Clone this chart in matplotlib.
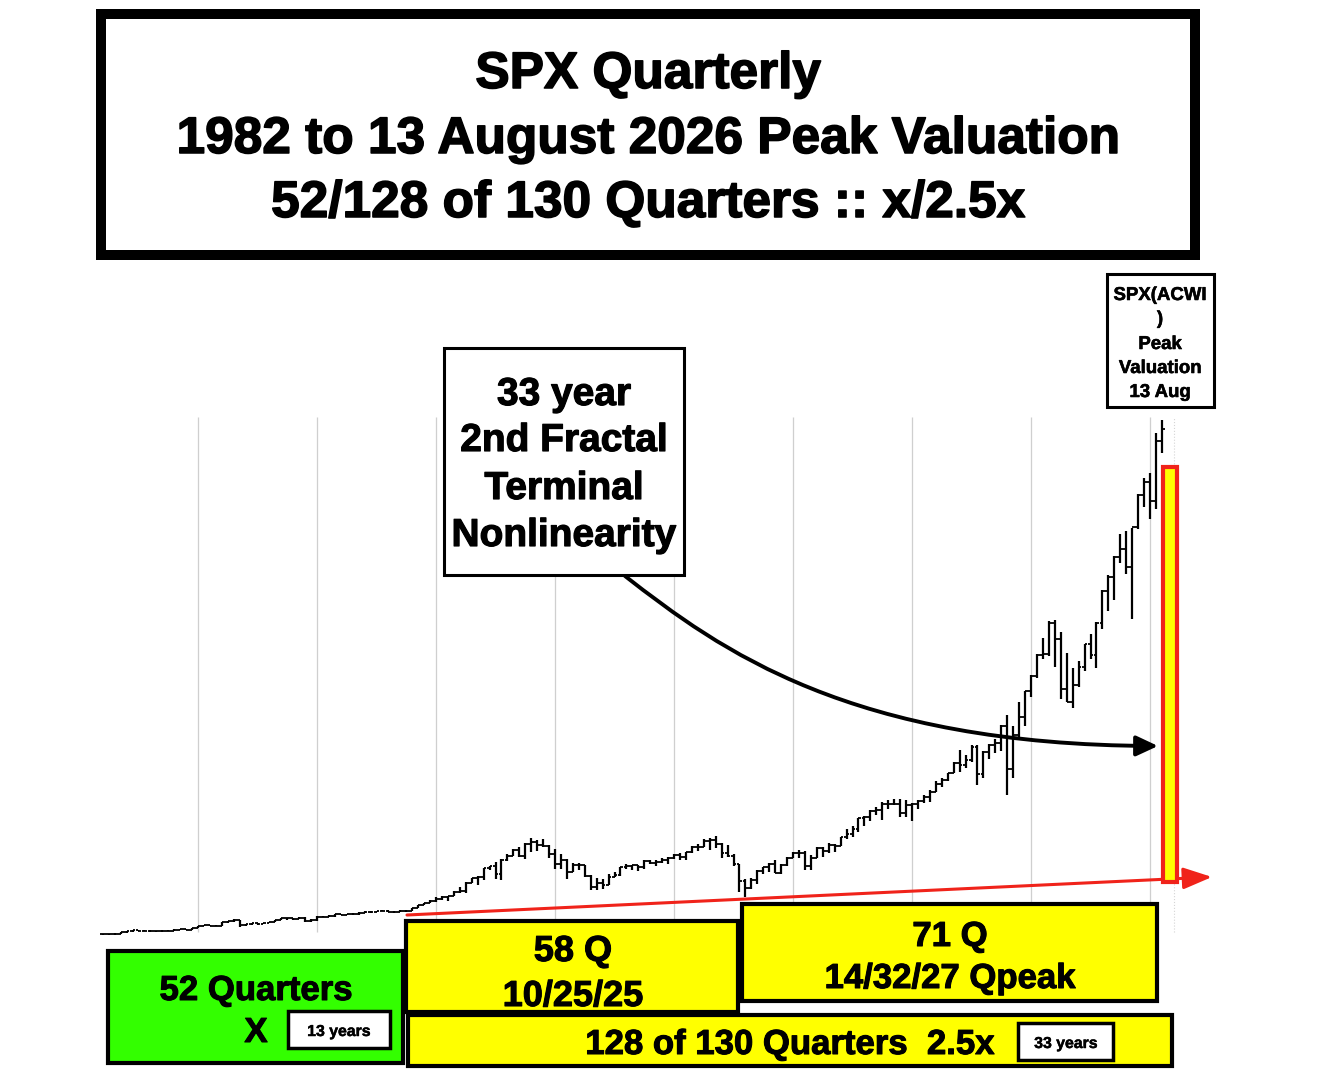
import matplotlib
matplotlib.use("Agg")
import matplotlib.pyplot as plt
import matplotlib.patheffects as pe
from matplotlib.patches import Rectangle, FancyArrowPatch
from matplotlib.path import Path
import numpy as np

plt.rcParams['font.family'] = ['Liberation Sans', 'DejaVu Sans']
plt.rcParams['font.weight'] = 'bold'

# quarterly bars, 1982Q1 .. 2026Q3
FIRST_YEAR = 1982.0
first_open = 122.55

closes = [
    111.96, 109.61, 120.42, 140.64,
    152.96, 168.11, 166.07, 164.93,
    159.18, 153.18, 166.10, 167.24,
    180.66, 191.85, 182.08, 211.28,
    238.90, 250.84, 231.32, 242.17,
    291.70, 304.00, 321.83, 247.08,
    258.89, 273.50, 271.91, 277.72,
    294.87, 317.98, 349.15, 353.40,
    339.94, 358.02, 306.05, 330.22,
    375.22, 371.16, 387.86, 417.09,
    403.69, 408.14, 417.80, 435.71,
    451.67, 450.53, 458.93, 466.45,
    445.77, 444.27, 462.69, 459.27,
    500.71, 544.75, 584.41, 615.93,
    645.50, 670.63, 687.33, 740.74,
    757.12, 885.14, 947.28, 970.43,
    1101.75, 1133.84, 1017.01, 1229.23,
    1286.37, 1372.71, 1282.71, 1469.25,
    1498.58, 1454.60, 1436.51, 1320.28,
    1160.33, 1224.42, 1040.94, 1148.08,
    1147.39, 989.82, 815.28, 879.82,
    848.18, 974.50, 995.97, 1111.92,
    1126.21, 1140.84, 1114.58, 1211.92,
    1180.59, 1191.33, 1228.81, 1248.29,
    1294.83, 1270.20, 1335.85, 1418.30,
    1420.86, 1503.35, 1526.75, 1468.36,
    1322.70, 1280.00, 1166.36, 903.25,
    797.87, 919.32, 1057.08, 1115.10,
    1169.43, 1030.71, 1141.20, 1257.64,
    1325.83, 1320.64, 1131.42, 1257.60,
    1408.47, 1362.16, 1440.67, 1426.19,
    1569.19, 1606.28, 1681.55, 1848.36,
    1872.34, 1960.23, 1972.29, 2058.90,
    2067.89, 2063.11, 1920.03, 2043.94,
    2059.74, 2098.86, 2168.27, 2238.83,
    2362.72, 2423.41, 2519.36, 2673.61,
    2640.87, 2718.37, 2913.98, 2506.85,
    2834.40, 2941.76, 2976.74, 3230.78,
    2584.59, 3100.29, 3363.00, 3756.07,
    3972.89, 4297.50, 4307.54, 4766.18,
    4530.41, 3785.38, 3585.62, 3839.50,
    4109.31, 4450.38, 4288.05, 4769.83,
    5254.35, 5460.48, 5762.48, 5881.63,
    5611.85, 6204.95, 6688.46, 6880.00,
    6590.00, 7490.00, 7680.00,
]

highs = [
    122.6, 119.3, 124.9, 143.0,
    154.0, 170.0, 172.7, 172.7,
    168.0, 162.0, 170.0, 170.0,
    183.0, 192.0, 196.0, 212.0,
    240.0, 254.0, 254.0, 254.0,
    302.0, 310.0, 338.0, 328.0,
    270.0, 275.0, 275.0, 284.0,
    300.0, 326.0, 354.0, 360.0,
    355.0, 370.0, 370.0, 333.0,
    378.0, 391.0, 396.0, 419.0,
    421.0, 419.0, 426.0, 441.0,
    457.0, 456.0, 463.0, 470.0,
    482.0, 462.0, 476.0, 472.0,
    503.0, 552.0, 586.0, 622.0,
    664.0, 680.0, 690.0, 761.0,
    817.0, 898.0, 961.0, 986.0,
    1106.0, 1138.0, 1190.0, 1245.0,
    1317.0, 1382.0, 1421.0, 1474.0,
    1553.0, 1527.0, 1531.0, 1455.0,
    1384.0, 1316.0, 1238.0, 1173.0,
    1176.0, 1147.0, 994.0, 954.0,
    935.0, 1015.0, 1040.0, 1112.0,
    1163.0, 1150.0, 1141.0, 1218.0,
    1229.0, 1217.0, 1246.0, 1275.0,
    1310.0, 1327.0, 1340.0, 1431.0,
    1461.0, 1540.0, 1555.0, 1576.0,
    1471.0, 1441.0, 1314.0, 1167.0,
    944.0, 957.0, 1080.0, 1120.0,
    1181.0, 1220.0, 1157.0, 1263.0,
    1344.0, 1371.0, 1357.0, 1293.0,
    1420.0, 1422.0, 1475.0, 1466.0,
    1570.0, 1688.0, 1729.0, 1849.0,
    1884.0, 1968.0, 2019.0, 2093.0,
    2119.0, 2135.0, 2133.0, 2116.0,
    2075.0, 2120.0, 2194.0, 2278.0,
    2401.0, 2454.0, 2520.0, 2695.0,
    2873.0, 2791.0, 2941.0, 2940.0,
    2860.0, 2964.0, 3028.0, 3247.0,
    3394.0, 3233.0, 3588.0, 3760.0,
    3995.0, 4302.0, 4546.0, 4808.0,
    4819.0, 4637.0, 4325.0, 4101.0,
    4195.0, 4458.0, 4607.0, 4793.0,
    5265.0, 5487.0, 5768.0, 6100.0,
    6147.0, 6187.0, 6700.0, 6940.0,
    7017.0, 7615.0, 7810.0,
]

lows = [
    107.3, 107.3, 101.4, 119.0,
    137.0, 151.0, 158.0, 160.0,
    151.0, 147.0, 147.0, 160.0,
    163.0, 177.0, 182.0, 180.0,
    203.0, 228.0, 229.0, 230.0,
    242.0, 279.0, 301.0, 216.0,
    240.0, 252.0, 255.0, 265.0,
    275.0, 292.0, 318.0, 328.0,
    322.0, 336.0, 294.0, 295.0,
    309.0, 366.0, 371.0, 373.0,
    400.0, 397.0, 406.0, 402.0,
    426.0, 434.0, 441.0, 455.0,
    438.0, 435.0, 444.0, 444.0,
    458.0, 500.0, 543.0, 576.0,
    597.0, 627.0, 605.0, 684.0,
    733.0, 733.0, 885.0, 855.0,
    927.0, 1074.0, 940.0, 923.0,
    1205.0, 1281.0, 1268.0, 1233.0,
    1339.0, 1357.0, 1421.0, 1254.0,
    1081.0, 1091.0, 945.0, 1040.0,
    1074.0, 964.0, 775.0, 768.0,
    789.0, 847.0, 965.0, 990.0,
    1087.0, 1076.0, 1060.0, 1090.0,
    1163.0, 1137.0, 1183.0, 1168.0,
    1245.0, 1219.0, 1224.0, 1327.0,
    1364.0, 1416.0, 1370.0, 1406.0,
    1257.0, 1270.0, 1133.0, 741.0,
    667.0, 783.0, 869.0, 1020.0,
    1044.0, 1023.0, 1011.0, 1131.0,
    1249.0, 1259.0, 1075.0, 1075.0,
    1259.0, 1267.0, 1325.0, 1343.0,
    1426.0, 1536.0, 1560.0, 1647.0,
    1737.0, 1814.0, 1904.0, 1821.0,
    1981.0, 2048.0, 1867.0, 1872.0,
    1810.0, 1992.0, 2074.0, 2084.0,
    2245.0, 2322.0, 2406.0, 2520.0,
    2533.0, 2594.0, 2691.0, 2347.0,
    2444.0, 2729.0, 2822.0, 2856.0,
    2192.0, 2447.0, 3059.0, 3234.0,
    3662.0, 3950.0, 4233.0, 4279.0,
    4115.0, 3637.0, 3584.0, 3492.0,
    3809.0, 4048.0, 4239.0, 4104.0,
    4683.0, 4953.0, 5119.0, 5674.0,
    5505.0, 4835.0, 6175.0, 6510.0,
    6330.0, 6480.0, 7315.0,
]

grid_years = [1986, 1991, 1996, 2001, 2006, 2011, 2016, 2021, 2026]

title_lines = ["SPX Quarterly",
               "1982 to 13 August 2026 Peak Valuation",
               "52/128 of 130 Quarters :: x/2.5x"]
fractal_lines = ["33 year", "2nd Fractal", "Terminal", "Nonlinearity"]
peak_lines = ["SPX(ACWI", ")", "Peak", "Valuation", "13 Aug"]

RED = '#f0231a'
YELLOW = '#ffff00'
GREEN = '#33ff00'

W, H = 1340, 1074
fig = plt.figure(figsize=(W / 100, H / 100), dpi=100)
fig.patch.set_facecolor('white')

# ---- price bars
ax = fig.add_axes([0, 0, 1, 1])
ax.set_xlim(1977.6807, 2033.983)
ax.set_ylim(-1980.5, 14097.3)
ax.axis('off')

n = len(closes)
t = FIRST_YEAR + 0.25 * np.arange(n)
c = np.array(closes)
o = np.concatenate([[first_open], c[:-1]])
tick = 0.12

ax.vlines(grid_years, 150, 7860, color='#cfcfcf', lw=0.9, zorder=1)
ax.vlines([2027], 150, 7860, color='#d5d5d5', lw=0.8, linestyles=':', zorder=1)
ax.vlines(t, lows, highs, color='black', lw=1.6, zorder=3)
ax.hlines(o, t - tick, t, color='black', lw=1.3, zorder=3)
ax.hlines(c, t, t + tick, color='black', lw=1.3, zorder=3)

# ---- annotation layer in pixel coordinates
ov = fig.add_axes([0, 0, 1, 1])
ov.set_xlim(0, W)
ov.set_ylim(H, 0)
ov.axis('off')
ov.patch.set_alpha(0)

def box(x0, y0, x1, y1, fc, lw, ec='black', z=5):
    ov.add_patch(Rectangle((x0, y0), x1 - x0, y1 - y0, facecolor=fc,
                           edgecolor=ec, lw=lw, zorder=z, joinstyle='miter'))

def txt(x, y, s, size, z=6):
    # a thin stroke to get closer to the heavy original lettering
    heavy = [pe.withStroke(linewidth=size * 0.03, foreground='black')]
    ov.text(x, y, s, fontsize=size, fontweight='bold', ha='center',
            va='baseline', zorder=z, color='black', path_effects=heavy)

# title
box(101, 14, 1195, 255, 'white', 7.2)
for s, yb in zip(title_lines, [88, 153, 217]):
    txt(648, yb, s, 37)

# fractal box
box(444, 348, 684, 575, 'white', 2.2)
for s, yb in zip(fractal_lines, [405, 451, 499, 546]):
    txt(564, yb, s, 28)

# peak box
box(1107, 274, 1214, 407, 'white', 2.2)
for s, yb in zip(peak_lines, [300, 324, 349, 373, 397]):
    txt(1160, yb, s, 13.4)

# curved arrow
verts = [(625, 576), (720, 650), (850, 745), (1158, 746)]
arc = Path(verts, [Path.MOVETO, Path.CURVE4, Path.CURVE4, Path.CURVE4])
ov.add_patch(FancyArrowPatch(path=arc, arrowstyle='-|>,head_length=0.6,head_width=0.28',
                             mutation_scale=22, color='black', lw=2.8, zorder=7))

# red rising baseline
ov.annotate('', xy=(1212, 877), xytext=(407, 915),
            arrowprops=dict(arrowstyle='-|>,head_length=0.8,head_width=0.3',
                            mutation_scale=22, color=RED, lw=2.2,
                            shrinkA=0, shrinkB=0), zorder=6)

# peak column
box(1163, 467, 1177, 882, YELLOW, 3.0, ec=RED, z=6)

# bottom boxes
box(108, 951, 403, 1063, GREEN, 3.0)
txt(256, 1000, "52 Quarters", 25)
txt(256, 1042, "X", 25)
box(288, 1011, 390, 1048, 'white', 2.5, z=6)
txt(339, 1036, "13 years", 11.4, z=7)

box(406, 921, 738, 1012, YELLOW, 3.0)
txt(573, 961, "58 Q", 26)
txt(573, 1006, "10/25/25", 26)

box(742, 904, 1157, 1001, YELLOW, 3.0)
txt(950, 946, "71 Q", 25)
txt(950, 988, "14/32/27 Qpeak", 25)

box(408, 1015, 1172, 1066, YELLOW, 3.0)
txt(790, 1054, "128 of 130 Quarters  2.5x", 25)
box(1018, 1023, 1113, 1060, 'white', 2.5, z=6)
txt(1066, 1048, "33 years", 11.4, z=7)

fig.savefig('out.png', dpi=100, facecolor='white')
